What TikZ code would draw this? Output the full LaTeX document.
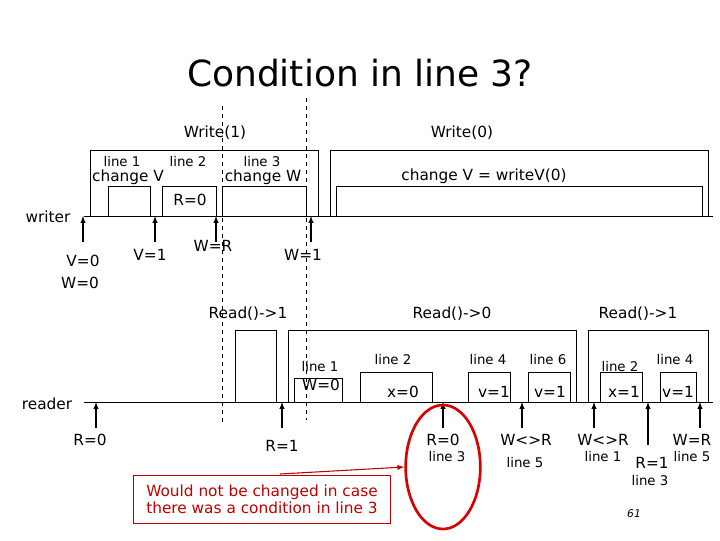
\documentclass[tikz,border=0pt]{standalone}
\usepackage{fontspec}
\setmainfont{DejaVu Sans}
\usetikzlibrary{calc,shapes.geometric}
\tikzset{
  lbl/.style={font=\fontsize{10}{11}\selectfont, inner sep=0pt},
  big/.style={font=\fontsize{11.5}{13}\selectfont, inner sep=0pt},
  evt/.style={-latex, thick},
  note/.style={red!75!black}
}
\begin{document}
\begin{tikzpicture}[x=0.75pt,y=-0.75pt]
  \useasboundingbox (0,0) rectangle (720,540);
  \node (title) at (360,73) {\fontsize{27}{30}\selectfont Condition in line 3?};

  % writer
  \node (writer) at (48,217) [big,anchor=center] {writer};
  \coordinate (w0) at (84,216);
  \coordinate (w1) at (713,216);
  \draw (w0) -- (w1);
  \draw (90,216) |- (318,150) -- (318,216);
  \draw (330,216) |- (708,150) -- (708,216);
  \draw (108,216) |- (150,186) -- (150,216);
  \draw (162,216) |- (216,186) -- (216,216);
  \draw (222,216) |- (306,186) -- (306,216);
  \draw (336,216) |- (702,186) -- (702,216);
  \draw [dashed] (222,106) -- (222,425);
  \draw [dashed] (306,98) -- (306,420);

  \node (wr1) at (215,133) [big] {Write(1)};
  \node (wr0) at (462,133) [big] {Write(0)};
  \node (l1) at (122,162) [lbl] {line 1};
  \node (c1) at (128,177) [big] {change V};
  \node (l2) at (188,162) [lbl] {line 2};
  \node (l3) at (262,162) [lbl] {line 3};
  \node (c3) at (263,177) [big] {change W};
  \node (cv) at (484,176) [big] {change V = writeV(0)};
  \node (r0) at (190,200) [big] {R=0};

  \foreach \x/\n in {83/a, 155/b, 216/c, 311/d}
    {
      \coordinate (wt\n) at (\x,216);
      \coordinate (wb\n) at (\x,242);
      \draw [evt] (wb\n) -- (wt\n);
    }
  \node (v0) at (83,261) [big] {V=0};
  \node (wz) at (80,283) [big] {W=0};
  \node (v1) at (150,255) [big] {V=1};
  \node (wR) at (213,246) [big] {W=R};
  \node (w1l) at (303,255) [big] {W=1};

  % reader
  \node (reader) at (47,404) [big] {reader};
  \coordinate (r0s) at (84,402);
  \coordinate (r1s) at (713,402);
  \draw (r0s) -- (r1s);
  \draw (235,402) |- (276,330) -- (276,402);
  \draw (288,402) |- (576,330) -- (576,402);
  \draw (588,402) |- (708,330) -- (708,402);
  \draw (294,402) |- (342,378) -- (342,402);
  \draw (360,402) |- (432,372) -- (432,402);
  \draw (468,402) |- (510,372) -- (510,402);
  \draw (528,402) |- (570,372) -- (570,402);
  \draw (600,402) |- (642,372) -- (642,402);
  \draw (660,402) |- (696,372) -- (696,402);

  \node (rd1) at (248,314) [big] {Read()->1};
  \node (rd0) at (452,314) [big] {Read()->0};
  \node (rd2) at (638,314) [big] {Read()->1};
  \node (q1) at (320,367) [lbl] {line 1};
  \node (qw) at (321,385) [big] {W=0};
  \node (q2) at (393,360) [lbl] {line 2};
  \node (qx) at (403,392) [big] {x=0};
  \node (q4) at (488,360) [lbl] {line 4};
  \node (qv) at (494,392) [big] {v=1};
  \node (q6) at (548,360) [lbl] {line 6};
  \node (qv2) at (550,392) [big] {v=1};
  \node (p2) at (620,367) [lbl] {line 2};
  \node (px) at (624,392) [big] {x=1};
  \node (p4) at (675,360) [lbl] {line 4};
  \node (pv) at (678,392) [big] {v=1};

  \foreach \x/\n/\y in {96/a/428, 282/b/428, 443/c/428, 522/d/428, 594/e/428, 648/f/445, 700/g/428}
    {
      \coordinate (rt\n) at (\x,402);
      \coordinate (rb\n) at (\x,\y);
      \draw [evt] (rb\n) -- (rt\n);
    }
  \node (ra) at (90,440) [big] {R=0};
  \node (rb) at (282,446) [big] {R=1};
  \node (rc) at (443,440) [big] {R=0};
  \node (rcl) at (447,457) [lbl] {line 3};
  \node (rd) at (526,440) [big] {W<>R};
  \node (rdl) at (525,463) [lbl] {line 5};
  \node (re) at (603,440) [big] {W<>R};
  \node (rel) at (603,457) [lbl] {line 1};
  \node (rf) at (652,463) [big] {R=1};
  \node (rfl) at (650,481) [lbl] {line 3};
  \node (rg) at (692,440) [big] {W=R};
  \node (rgl) at (692,457) [lbl] {line 5};

  % remark
  \node (ring) at (443,467) [draw=red!85!black, line width=2pt, ellipse, inner sep=0pt, minimum width=56pt, minimum height=93pt] {};
  \node (remark) at (262,499) [note, draw, big, align=left, inner sep=4pt, minimum width=193pt, minimum height=36pt] {Would not be changed in case\\there was a condition in line 3};
  \coordinate (rs) at (280,474);
  \draw [note, thick, -latex] (rs) -- (ring.west);
  \node (page) at (634,514) [font=\fontsize{8}{9}\selectfont\itshape] {61};
\end{tikzpicture}
\end{document}
